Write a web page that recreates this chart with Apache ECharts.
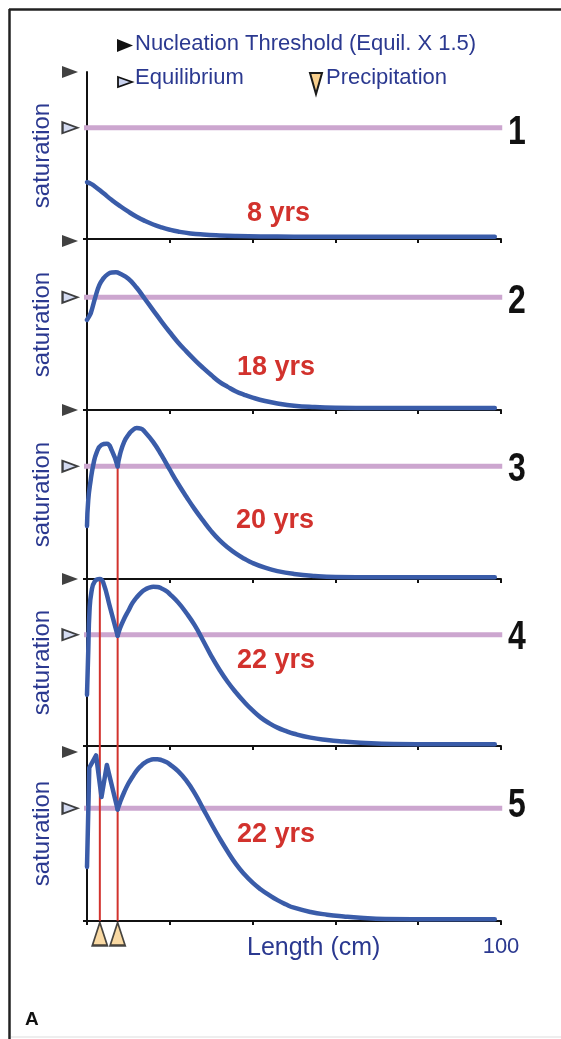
<!DOCTYPE html>
<html>
<head>
<meta charset="utf-8">
<script src="https://cdn.jsdelivr.net/npm/echarts@6/dist/echarts.min.js"></script>
<style>html,body{margin:0;padding:0;background:#fff;overflow:hidden;}#c{width:561px;height:1039px;}</style>
</head>
<body>
<div id="c"></div>
<script>
// ---------- data ----------
const panelLabels = ['1', '2', '3', '4', '5'];
const yearLabels = ['8 yrs', '18 yrs', '20 yrs', '22 yrs', '22 yrs'];
const equilibrium = 1.0;          // saturation relative to equilibrium
const nucleation = 1.5;           // nucleation threshold (equil x 1.5)
const xTicks = [0, 20, 40, 60, 80, 100];
const precipX = [3.1, 7.4];       // precipitation bands (cm)

// panel 1 (8 yrs)
const p1X = [0, 1, 2, 4, 6, 8, 10, 12, 14, 16, 18, 20, 22, 25, 28, 32, 36, 42, 50, 60, 98.5];
const p1Y = [0.51, 0.495, 0.47, 0.41, 0.35, 0.295, 0.245, 0.2, 0.162, 0.13, 0.104, 0.083, 0.067, 0.05, 0.04, 0.032, 0.027, 0.023, 0.021, 0.02, 0.02];
// panel 2 (18 yrs)
const p2X = [0, 0.5, 1, 2, 3, 4, 5, 6, 7, 8, 10, 12, 14, 16, 18, 20, 22, 24, 26, 28, 30, 32, 34, 36, 38, 40, 43, 46, 50, 55, 60, 70, 98.5];
const p2Y = [0.80, 0.83, 0.87, 1.0, 1.11, 1.17, 1.205, 1.22, 1.222, 1.21, 1.165, 1.085, 0.985, 0.885, 0.785, 0.69, 0.60, 0.52, 0.445, 0.375, 0.31, 0.25, 0.205, 0.165, 0.135, 0.11, 0.08, 0.058, 0.038, 0.026, 0.02, 0.017, 0.017];
// panel 3 (20 yrs) - two arcs meeting at the precipitation cusp
const p3aX = [0, 0.3, 0.9, 1.5, 2.3, 3.5, 4.8, 6.0, 7.4];
const p3aY = [0.47, 0.70, 0.88, 1.01, 1.12, 1.19, 1.20, 1.14, 1.0];
const p3bX = [7.4, 8, 9, 10, 11, 12, 13, 14, 16, 18, 20, 22, 24, 26, 28, 30, 32, 34, 36, 38, 40, 43, 46, 50, 55, 60, 70, 98.5];
const p3bY = [1.0, 1.11, 1.22, 1.28, 1.32, 1.34, 1.335, 1.305, 1.215, 1.10, 0.97, 0.845, 0.73, 0.62, 0.52, 0.425, 0.345, 0.28, 0.225, 0.18, 0.142, 0.1, 0.07, 0.045, 0.027, 0.018, 0.015, 0.015];
// panel 4 (22 yrs)
const p4aX = [0, 0.3, 0.6, 1.1, 1.9, 3.1, 3.9, 5.6, 7.4];
const p4aY = [0.46, 0.85, 1.21, 1.39, 1.48, 1.5, 1.47, 1.24, 0.99];
const p4bX = [7.4, 8, 9, 10, 11, 12, 13, 14, 15, 16, 17, 18, 19, 20, 22, 24, 26, 28, 30, 32, 34, 36, 38, 40, 42, 44, 46, 48, 50, 54, 58, 62, 66, 74, 85, 98.5];
const p4bY = [0.99, 1.06, 1.145, 1.215, 1.285, 1.335, 1.375, 1.405, 1.422, 1.43, 1.428, 1.415, 1.395, 1.365, 1.29, 1.195, 1.085, 0.95, 0.81, 0.685, 0.575, 0.48, 0.395, 0.32, 0.255, 0.205, 0.165, 0.135, 0.11, 0.075, 0.054, 0.04, 0.03, 0.018, 0.015, 0.015];
// panel 5 (22 yrs)
const p5aX = [0, 0.55, 2.2, 3.5, 4.8, 7.4];
const p5aY = [0.48, 1.36, 1.47, 1.10, 1.385, 0.99];
const p5bX = [7.4, 8, 9, 10, 11, 12, 13, 14, 15, 16, 17, 18, 19, 20, 22, 24, 26, 28, 30, 32, 34, 36, 38, 40, 42, 44, 46, 48, 50, 54, 58, 62, 66, 72, 85, 98.5];
const p5bY = [0.99, 1.055, 1.145, 1.22, 1.28, 1.335, 1.375, 1.405, 1.425, 1.435, 1.435, 1.428, 1.413, 1.39, 1.33, 1.245, 1.135, 1.0, 0.865, 0.735, 0.615, 0.505, 0.415, 0.34, 0.28, 0.23, 0.185, 0.148, 0.118, 0.08, 0.056, 0.04, 0.028, 0.018, 0.015, 0.015];

// ---------- layout ----------
const zip = (xs, ys) => xs.map((x, i) => [x, ys[i]]);
const panels = [
  { top: 72,  height: 167, max: 1.5,   segs: [[p1X, p1Y, true]], red: [] },
  { top: 239, height: 171, max: 1.518, segs: [[p2X, p2Y, true]], red: [] },
  { top: 410, height: 169, max: 1.5,   segs: [[p3aX, p3aY, true], [p3bX, p3bY, true]], red: [[precipX[1], equilibrium]] },
  { top: 579, height: 167, max: 1.5,   segs: [[p4aX, p4aY, true], [p4bX, p4bY, true]], red: [[precipX[0], nucleation], [precipX[1], nucleation]] },
  { top: 746, height: 175, max: 1.553, segs: [[p5aX, p5aY, false], [p5bX, p5bY, true]], red: [[precipX[0], 1.553], [precipX[1], 1.553]] }
];

const BLUE_TXT = '#2b3990';
const CURVE = '#3a5ca9';
const PINK = '#cca6cf';
const RED = '#d2322d';
const FONT = 'Liberation Sans, Arial, sans-serif';

const grids = [], xAxes = [], yAxes = [], series = [];
panels.forEach((p, i) => {
  grids.push({ left: 87, width: 414, top: p.top, height: p.height });
  const last = i === panels.length - 1;
  xAxes.push({
    type: 'value', gridIndex: i, min: 0, max: 100, interval: 20,
    axisLine: { show: true, lineStyle: { color: '#111', width: 2 } },
    axisTick: { show: true, length: 4, lineStyle: { color: '#111', width: 2 } },
    axisLabel: last ? { show: true, customValues: [100], color: BLUE_TXT, fontSize: 22, fontFamily: FONT, margin: 15 } : { show: false },
    splitLine: { show: false }
  });
  yAxes.push({
    type: 'value', gridIndex: i, min: 0, max: p.max,
    name: 'saturation', nameLocation: 'middle', nameRotate: 90, nameGap: 33,
    nameTextStyle: { color: BLUE_TXT, fontSize: 24, fontFamily: FONT },
    axisLine: { show: true, lineStyle: { color: '#111', width: 2 } },
    axisTick: { show: true, customValues: [0], length: 4, lineStyle: { color: '#111', width: 2 } },
    axisLabel: { show: false },
    splitLine: { show: false }
  });
  // equilibrium line
  series.push({
    type: 'line', xAxisIndex: i, yAxisIndex: i, clip: false, silent: true, symbol: 'none', z: 2,
    data: [[-1, equilibrium], [100.3, equilibrium]],
    lineStyle: { color: PINK, width: 5 }
  });
  // precipitation red lines
  p.red.forEach(r => {
    series.push({
      type: 'line', xAxisIndex: i, yAxisIndex: i, clip: false, silent: true, symbol: 'none', z: 3,
      data: [[r[0], r[1]], [r[0], 0]],
      lineStyle: { color: RED, width: 2 }
    });
  });
  // curves
  p.segs.forEach(s => {
    series.push({
      type: 'line', xAxisIndex: i, yAxisIndex: i, clip: false, silent: true, symbol: 'none', z: 4,
      smooth: s[2] ? 0.5 : false,
      data: zip(s[0], s[1]),
      lineStyle: { color: CURVE, width: 4.5, cap: 'round', join: 'round' }
    });
  });
  // axis markers: nucleation threshold & equilibrium
  series.push({
    type: 'scatter', xAxisIndex: i, yAxisIndex: i, clip: false, silent: true, z: 5,
    data: [[-4.1, nucleation]],
    symbol: 'path://M0,0L16,6L0,12Z', symbolSize: [16, 12],
    itemStyle: { color: '#111' }
  });
  series.push({
    type: 'scatter', xAxisIndex: i, yAxisIndex: i, clip: false, silent: true, z: 5,
    data: [[-4.1, equilibrium]],
    symbol: 'path://M0,0L15,5L0,10Z', symbolSize: [15, 11],
    itemStyle: { color: '#c9d2ee', borderColor: '#111', borderWidth: 2 }
  });
  if (last) {
    series.push({
      type: 'scatter', xAxisIndex: i, yAxisIndex: i, clip: false, silent: true, z: 5,
      data: precipX.map(x => [x, -0.115]),
      symbol: 'path://M8,0L16,24L0,24Z', symbolSize: [15, 23],
      itemStyle: { color: '#f8cf8c', borderColor: '#1a1a1a', borderWidth: 2 }
    });
  }
});

const yearPos = [[247, 214], [237, 368], [236, 521], [237, 661], [237, 835]];
const numPos = [[517, 133], [517, 302], [517, 470], [517, 638], [517, 806]];

const graphic = [
  { type: 'line', shape: { x1: 9, y1: 9.5, x2: 561, y2: 9.5 }, style: { stroke: '#222', lineWidth: 2.5 }, silent: true },
  { type: 'line', shape: { x1: 9.5, y1: 9, x2: 9.5, y2: 1039 }, style: { stroke: '#222', lineWidth: 2.5 }, silent: true },
  { type: 'line', shape: { x1: 11, y1: 1037, x2: 561, y2: 1037 }, style: { stroke: '#dddddd', lineWidth: 1 }, silent: true },
  // legend
  { type: 'polygon', shape: { points: [[117, 39], [133, 45.5], [117, 52]] }, style: { fill: '#111' } },
  { type: 'text', left: 135, top: 33, style: { text: 'Nucleation Threshold (Equil. X 1.5)', fill: BLUE_TXT, font: '22px ' + FONT } },
  { type: 'polygon', shape: { points: [[118, 77], [132, 82], [118, 87]] }, style: { fill: '#c9d2ee', stroke: '#111', lineWidth: 1.8 } },
  { type: 'text', left: 135, top: 67, style: { text: 'Equilibrium', fill: BLUE_TXT, font: '22px ' + FONT } },
  { type: 'polygon', shape: { points: [[310, 73], [322, 73], [316, 94]] }, style: { fill: '#f8cf8c', stroke: '#1a1a1a', lineWidth: 2 } },
  { type: 'text', left: 326, top: 67, style: { text: 'Precipitation', fill: BLUE_TXT, font: '22px ' + FONT } },
  { type: 'text', left: 247, top: 936, style: { text: 'Length (cm)', fill: BLUE_TXT, font: '25px ' + FONT } },
  { type: 'text', left: 25, top: 1010, style: { text: 'A', fill: '#111', font: 'bold 19px ' + FONT } }
];
yearLabels.forEach((t, i) => {
  graphic.push({ type: 'text', x: yearPos[i][0], y: yearPos[i][1], style: { text: t, fill: RED, font: 'bold 27px ' + FONT, verticalAlign: 'middle', align: 'left' } });
});
panelLabels.forEach((t, i) => {
  graphic.push({ type: 'text', x: numPos[i][0], y: numPos[i][1], scaleX: 0.8, style: { text: t, fill: '#111', font: 'bold 40px ' + FONT, verticalAlign: 'middle', align: 'center' } });
});

const chart = echarts.init(document.getElementById('c'), null, { renderer: 'canvas' });
chart.setOption({
  animation: false,
  backgroundColor: '#fff',
  grid: grids,
  xAxis: xAxes,
  yAxis: yAxes,
  series: series,
  graphic: graphic
});
</script>
</body>
</html>
